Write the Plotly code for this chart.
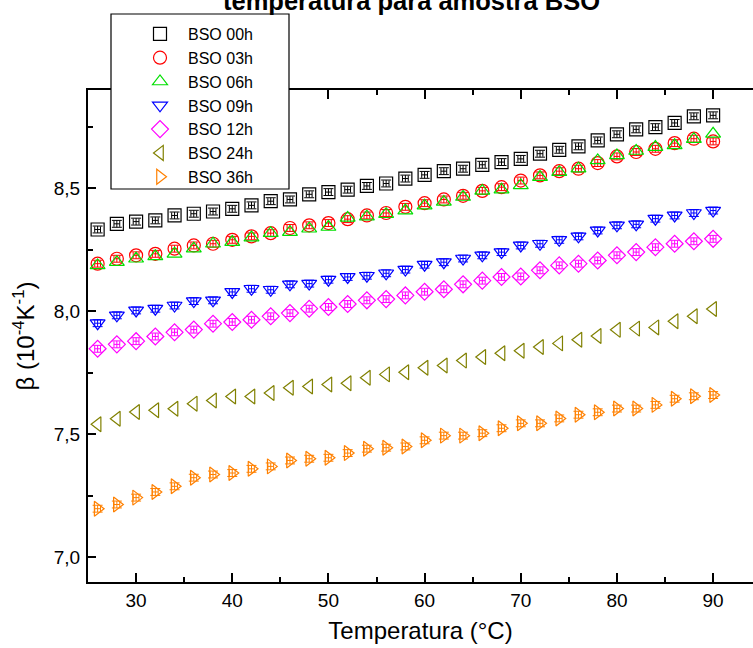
import plotly.graph_objects as go

# Temperature (°C)
temperatura = [26, 28, 30, 32, 34, 36, 38, 40, 42, 44, 46, 48, 50, 52, 54, 56, 58,
               60, 62, 64, 66, 68, 70, 72, 74, 76, 78, 80, 82, 84, 86, 88, 90]

# Thermo-optic coefficient beta (10^-4 K^-1) for each annealing time
bso_00h = [8.333, 8.356, 8.365, 8.370, 8.390, 8.397, 8.406, 8.417, 8.431, 8.448, 8.455,
           8.476, 8.485, 8.495, 8.510, 8.520, 8.540, 8.555, 8.570, 8.580, 8.596, 8.607,
           8.620, 8.641, 8.657, 8.671, 8.695, 8.720, 8.740, 8.749, 8.766, 8.793, 8.797]
bso_03h = [8.194, 8.214, 8.228, 8.234, 8.255, 8.268, 8.275, 8.291, 8.305, 8.318, 8.339,
           8.350, 8.359, 8.375, 8.390, 8.400, 8.425, 8.440, 8.455, 8.470, 8.490, 8.505,
           8.532, 8.553, 8.570, 8.580, 8.603, 8.630, 8.648, 8.661, 8.684, 8.702, 8.691]
bso_06h = [8.187, 8.200, 8.214, 8.224, 8.234, 8.255, 8.275, 8.282, 8.300, 8.318, 8.322,
           8.336, 8.343, 8.380, 8.385, 8.395, 8.410, 8.430, 8.445, 8.465, 8.490, 8.495,
           8.512, 8.546, 8.566, 8.580, 8.614, 8.634, 8.652, 8.668, 8.675, 8.700, 8.722]
bso_09h = [7.952, 7.984, 8.004, 8.011, 8.024, 8.042, 8.045, 8.079, 8.092, 8.088, 8.110,
           8.113, 8.129, 8.140, 8.145, 8.155, 8.170, 8.190, 8.200, 8.215, 8.228, 8.241,
           8.268, 8.275, 8.291, 8.305, 8.329, 8.350, 8.354, 8.377, 8.390, 8.400, 8.410]
bso_12h = [7.848, 7.866, 7.879, 7.898, 7.915, 7.926, 7.950, 7.957, 7.966, 7.980, 7.993,
           8.011, 8.018, 8.030, 8.045, 8.050, 8.065, 8.080, 8.090, 8.110, 8.125, 8.140,
           8.142, 8.167, 8.187, 8.194, 8.207, 8.228, 8.241, 8.261, 8.275, 8.285, 8.295]
bso_24h = [7.541, 7.564, 7.591, 7.598, 7.604, 7.625, 7.638, 7.654, 7.654, 7.668, 7.690,
           7.695, 7.703, 7.708, 7.730, 7.744, 7.753, 7.771, 7.780, 7.800, 7.815, 7.830,
           7.840, 7.855, 7.870, 7.885, 7.900, 7.925, 7.930, 7.935, 7.960, 7.980, 8.010]
bso_36h = [7.198, 7.215, 7.243, 7.266, 7.289, 7.324, 7.337, 7.343, 7.360, 7.370, 7.394,
           7.401, 7.405, 7.424, 7.442, 7.446, 7.451, 7.476, 7.495, 7.495, 7.505, 7.525,
           7.545, 7.545, 7.565, 7.580, 7.590, 7.605, 7.605, 7.620, 7.645, 7.655, 7.660]

series_names = ["BSO 00h", "BSO 03h", "BSO 06h", "BSO 09h", "BSO 12h", "BSO 24h", "BSO 36h"]
series_values = [bso_00h, bso_03h, bso_06h, bso_09h, bso_12h, bso_24h, bso_36h]
series_colors = ["#000000", "#FF0000", "#00E000", "#0000FF", "#FF00FF", "#808000", "#FF8000"]
series_symbols = ["square-open", "circle-open", "triangle-up-open", "triangle-down-open",
                  "diamond-open", "triangle-left-open", "triangle-right-open"]

# measurement uncertainty in beta and in temperature (0 = no error bars shown)
erro_beta = [0.014, 0.014, 0.0, 0.014, 0.014, 0.0, 0.014]
erro_temp = [0.3, 0.3, 0.0, 0.3, 0.3, 0.0, 0.3]

FONT = "Arial, Liberation Sans, sans-serif"

fig = go.Figure()
for name, vals, color, sym, eb, et in zip(series_names, series_values, series_colors,
                                          series_symbols, erro_beta, erro_temp):
    fig.add_trace(go.Scatter(
        x=temperatura, y=vals, name=name, mode="markers",
        marker=dict(symbol=sym, size=13, color=color, line=dict(color=color, width=1.2)),
        error_y=dict(type="constant", value=eb, color=color, thickness=1, width=5, visible=eb > 0),
        error_x=dict(type="constant", value=et, color=color, thickness=1, width=3, visible=et > 0),
    ))

# plot area in pixels: left 88, right 753, top 90, bottom 582
L, R, T, B = 88, 753, 90, 582
W, H = R - L, B - T

def px(xp):
    return (xp - L) / W

def py(yp):
    return (B - yp) / H

fig.add_shape(type="rect", xref="paper", yref="paper",
              x0=px(111), x1=px(289), y0=py(189), y1=py(14),
              line=dict(color="black", width=1.2), fillcolor="white", layer="above")

fig.add_annotation(text="<b>temperatura para amostra BSO</b>", xref="paper", yref="paper",
                   x=px(411), y=py(17), xanchor="center", yanchor="bottom", showarrow=False,
                   font=dict(family=FONT, size=25.5, color="black"))

axis_common = dict(
    showline=True, linecolor="black", linewidth=2,
    ticks="inside", tickcolor="black", tickwidth=2,
    showgrid=False, zeroline=False,
    tickfont=dict(family=FONT, size=19, color="black"),
)

fig.update_xaxes(
    **axis_common, range=[25, 25 + W / 9.617], dtick=10, tick0=0, ticklen=9,
    mirror="ticks",
    minor=dict(dtick=5, tick0=0, ticks="inside", ticklen=5, tickwidth=2, tickcolor="black"),
    title=dict(text="Temperatura (°C)", font=dict(family=FONT, size=24, color="black"), standoff=12),
)
fig.update_yaxes(
    **axis_common, range=[6.9, 8.9], dtick=0.5, tick0=0, ticklen=8, tickformat=".1f",
    ticklabelstandoff=2,
    minor=dict(dtick=0.25, tick0=0, ticks="inside", ticklen=5, tickwidth=2, tickcolor="black"),
    title=dict(text="β (10<sup>-4</sup>K<sup>-1</sup>)", font=dict(family=FONT, size=24, color="black"),
               standoff=12),
)

fig.update_layout(
    width=753, height=648,
    margin=dict(l=L, r=0, t=T, b=648 - B, pad=0),
    paper_bgcolor="white", plot_bgcolor="white",
    separators=",.",
    font=dict(family=FONT, size=18, color="black"),
    showlegend=True,
    legend=dict(x=px(132), y=py(17), xanchor="left", yanchor="top",
                bgcolor="rgba(0,0,0,0)", borderwidth=0,
                font=dict(family=FONT, size=16, color="black"),
                itemwidth=46, tracegroupgap=0),
)

fig.write_html("out.html")
